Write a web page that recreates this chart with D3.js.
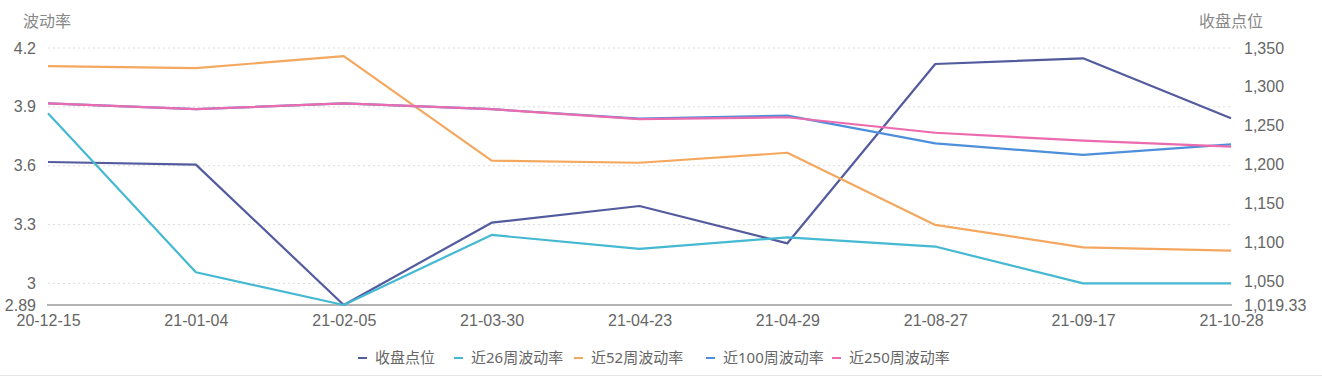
<!DOCTYPE html>
<html>
<head>
<meta charset="utf-8">
<script src="https://cdn.jsdelivr.net/npm/d3@7"></script>
<style>
  body { margin: 0; background: #fff; }
  svg { font-family: "Noto Sans", "Noto Sans CJK SC", sans-serif; }
</style>
</head>
<body>
<div id="chart"></div>
<script>
// dates on the x axis
const dates = ['20-12-15', '21-01-04', '21-02-05', '21-03-30', '21-04-23', '21-04-29', '21-08-27', '21-09-17', '21-10-28'];

// closing index (right axis)
const closePts = [1203.3, 1199.9, 1019.33, 1125.2, 1146.7, 1098.7, 1329.4, 1336.7, 1259.5];

// volatility series (left axis)
const vol26 = [3.867, 3.057, 2.89, 3.247, 3.176, 3.235, 3.188, 3.0, 3.0];
const vol52 = [4.108, 4.097, 4.159, 3.626, 3.615, 3.666, 3.298, 3.184, 3.167];
const vol100 = [3.918, 3.888, 3.918, 3.888, 3.840, 3.855, 3.714, 3.655, 3.709];
const vol250 = [3.918, 3.888, 3.918, 3.888, 3.837, 3.847, 3.768, 3.728, 3.697];

const leftTicks = [2.89, 3, 3.3, 3.6, 3.9, 4.2];
const rightTicks = [1019.33, 1050, 1100, 1150, 1200, 1250, 1300, 1350];

const seriesNames = ['收盘点位', '近26周波动率', '近52周波动率', '近100周波动率', '近250周波动率'];
const seriesColors = ['#535b9f', '#45b8d2', '#f4a85f', '#4d8fda', '#ec6aae'];

const W = 1322, H = 377;
const x0 = 48, x1 = 1231, yTop = 48, yBot = 305;

const svg = d3.select('#chart').append('svg')
  .attr('width', W)
  .attr('height', H);

const x = d3.scalePoint().domain(dates).range([x0, x1]);
const yL = d3.scaleLinear().domain([2.89, 4.2]).range([yBot, yTop]);
const yR = d3.scaleLinear().domain([1019.33, 1350]).range([yBot, yTop]);

// dotted grid lines on left ticks
svg.append('g')
  .selectAll('line')
  .data(leftTicks.filter(d => d > 2.89))
  .enter()
  .append('line')
  .attr('x1', x0).attr('x2', x1)
  .attr('y1', d => yL(d)).attr('y2', d => yL(d))
  .attr('stroke', '#dcdcdc')
  .attr('stroke-dasharray', '2,3');

// bottom axis line
svg.append('line')
  .attr('x1', x0 - 1).attr('x2', x1 + 1)
  .attr('y1', yBot).attr('y2', yBot)
  .attr('stroke', '#b4b4b4')
  .attr('stroke-width', 2);

// left axis
const leftAxis = svg.append('g')
  .attr('transform', `translate(${x0 - 12},0)`)
  .call(d3.axisLeft(yL).tickValues(leftTicks).tickSize(0).tickPadding(0)
    .tickFormat(d => d === 2.89 ? '2.89' : d3.format('')(d)));
leftAxis.select('.domain').remove();
leftAxis.selectAll('text').attr('fill', '#666').style('font-size', '16px');

// right axis
const rightAxis = svg.append('g')
  .attr('transform', `translate(${x1 + 13},0)`)
  .call(d3.axisRight(yR).tickValues(rightTicks).tickSize(0).tickPadding(0)
    .tickFormat(d => d === 1019.33 ? '1,019.33' : d3.format(',')(d)));
rightAxis.select('.domain').remove();
rightAxis.selectAll('text').attr('fill', '#666').style('font-size', '16px');

// bottom axis labels
const bottomAxis = svg.append('g')
  .attr('transform', `translate(0,${yBot + 4})`)
  .call(d3.axisBottom(x).tickSize(0).tickPadding(6));
bottomAxis.select('.domain').remove();
bottomAxis.selectAll('text').attr('fill', '#666').style('font-size', '16px');

// axis titles
svg.append('text').attr('x', 23).attr('y', 27)
  .attr('fill', '#888').style('font-size', '16px').text('波动率');
svg.append('text').attr('x', 1263).attr('y', 27).attr('text-anchor', 'end')
  .attr('fill', '#888').style('font-size', '16px').text('收盘点位');

// lines
const lineL = d3.line().x((d, i) => x(dates[i])).y(d => yL(d));
const lineR = d3.line().x((d, i) => x(dates[i])).y(d => yR(d));

const series = [
  { values: closePts, line: lineR, color: seriesColors[0] },
  { values: vol26, line: lineL, color: seriesColors[1] },
  { values: vol52, line: lineL, color: seriesColors[2] },
  { values: vol100, line: lineL, color: seriesColors[3] },
  { values: vol250, line: lineL, color: seriesColors[4] }
];

svg.append('g')
  .selectAll('path')
  .data(series)
  .enter()
  .append('path')
  .attr('d', d => d.line(d.values))
  .attr('fill', 'none')
  .attr('stroke', d => d.color)
  .attr('stroke-width', 2.2)
  .attr('stroke-linejoin', 'round');

// legend
const legendX = [358, 454, 574, 706, 832];
const legend = svg.append('g').selectAll('g')
  .data(seriesNames)
  .enter()
  .append('g')
  .attr('transform', (d, i) => `translate(${legendX[i]},358)`);
legend.append('line')
  .attr('x1', 0).attr('x2', 9).attr('y1', 0).attr('y2', 0)
  .attr('stroke', (d, i) => seriesColors[i]).attr('stroke-width', 2);
legend.append('text')
  .attr('x', 17).attr('dy', '0.35em')
  .attr('fill', '#666').style('font-size', '15px')
  .text(d => d);

// bottom border
svg.append('line')
  .attr('x1', 0).attr('x2', W).attr('y1', 375.5).attr('y2', 375.5)
  .attr('stroke', '#e6e6e6');
</script>
</body>
</html>
